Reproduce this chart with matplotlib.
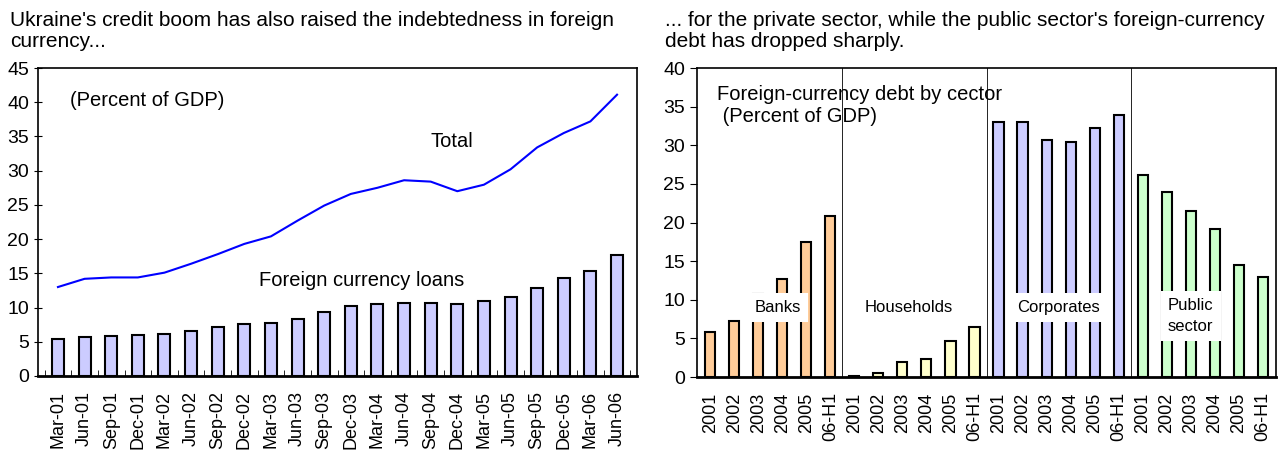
import numpy as np
import matplotlib.pyplot as plt

plt.rcParams['font.family'] = ['Liberation Sans', 'DejaVu Sans']

# left panel: quarterly data, percent of GDP
quarters = ["Mar-01", "Jun-01", "Sep-01", "Dec-01", "Mar-02", "Jun-02", "Sep-02", "Dec-02",
            "Mar-03", "Jun-03", "Sep-03", "Dec-03", "Mar-04", "Jun-04", "Sep-04", "Dec-04",
            "Mar-05", "Jun-05", "Sep-05", "Dec-05", "Mar-06", "Jun-06"]
fx_loans = [5.4, 5.7, 5.8, 5.95, 6.15, 6.6, 7.2, 7.55, 7.7, 8.4, 9.3, 10.25,
            10.5, 10.7, 10.6, 10.5, 10.9, 11.6, 12.8, 14.3, 15.4, 17.75]
total = [13.0, 14.2, 14.4, 14.4, 15.1, 16.4, 17.8, 19.3, 20.4, 22.7, 24.9, 26.6,
         27.5, 28.6, 28.4, 27.0, 27.95, 30.2, 33.4, 35.5, 37.2, 41.1]

# right panel: foreign-currency debt by sector
years = ["2001", "2002", "2003", "2004", "2005", "06-H1"]
sectors = ["Banks", "Households", "Corporates", "Public\nsector"]
banks = [5.8, 7.3, 10.8, 12.7, 17.5, 20.8]
households = [0.17, 0.5, 1.9, 2.3, 4.6, 6.5]
corporates = [33.0, 33.0, 30.65, 30.4, 32.2, 33.9]
public = [26.2, 23.9, 21.5, 19.1, 14.5, 12.9]
sector_colors = ["#FFCC99", "#FFFFCC", "#CCCCFF", "#CCFFCC"]

fig = plt.figure(figsize=(12.8, 4.5), dpi=100)

# ---- left chart
ax1 = fig.add_axes([38/1280, 74/450, 599/1280, 308/450])
x = np.arange(len(quarters))
ax1.bar(x, fx_loans, width=0.45, color="#CCCCFF", edgecolor="black", linewidth=1.5)
ax1.plot(x, total, color="#0000FF", linewidth=1.5)
ax1.set_xlim(-0.75, len(quarters) - 0.25)
ax1.set_ylim(0, 45)
ax1.set_yticks(np.arange(0, 46, 5))
ax1.set_xticks(x)
ax1.set_xticklabels(quarters, rotation=90, fontsize=13)
ax1.tick_params(axis='y', labelsize=14, length=6, direction='inout')
ax1.tick_params(axis='x', length=0, pad=11)
ax1.set_xticks(np.arange(-0.5, len(quarters), 1), minor=True)
ax1.tick_params(axis='x', which='minor', direction='in', length=4)
for s in ax1.spines.values():
    s.set_linewidth(1.2)
ax1.spines['bottom'].set_linewidth(2)
ax1.text(0.45, 40.2, "(Percent of GDP)", fontsize=14.5, va='center')
ax1.text(14.8, 34.2, "Total", fontsize=14.5, ha='center', va='center')
ax1.text(11.4, 14.0, "Foreign currency loans", fontsize=14.5, ha='center', va='center')

fig.text(10/1280, 1 - 31/450, "Ukraine's credit boom has also raised the indebtedness in foreign\ncurrency...",
         fontsize=15, va='center', linespacing=1.15)

# ---- right chart
ax2 = fig.add_axes([697/1280, 73/450, 579/1280, 309/450])
groups = [banks, households, corporates, public]
labels = []
for g, (vals, col) in enumerate(zip(groups, sector_colors)):
    xs = np.arange(len(vals)) + g * len(years)
    ax2.bar(xs, vals, width=0.42, color=col, edgecolor="black", linewidth=1.5, zorder=2)
    labels += years
n = len(labels)
for b in range(1, len(groups)):
    ax2.axvline(b * len(years) - 0.5, color="black", linewidth=0.6, zorder=1)
ax2.set_xlim(-0.55, n - 0.45)
ax2.set_ylim(0, 40)
ax2.set_yticks(np.arange(0, 41, 5))
ax2.set_xticks(np.arange(n))
ax2.set_xticklabels(labels, rotation=90, fontsize=13)
ax2.tick_params(axis='y', labelsize=14, length=5)
ax2.tick_params(axis='x', length=0, pad=11)
for s in ax2.spines.values():
    s.set_linewidth(1.2)
ax2.spines['bottom'].set_linewidth(2)

label_pos = [(2.83, 9.0), (8.25, 9.0), (14.5, 9.0), (20.0, 7.9)]
for name, (lx, ly) in zip(sectors, label_pos):
    ax2.text(lx, ly, name, fontsize=12, ha='center', va='center', zorder=3,
             linespacing=1.5, bbox=dict(facecolor='white', edgecolor='none', pad=5))

ax2.text(0.3, 35.1, "Foreign-currency debt by cector\n (Percent of GDP)", fontsize=14.5,
         va='center', linespacing=1.2)

fig.text(665/1280, 1 - 31/450, "... for the private sector, while the public sector's foreign-currency\ndebt has dropped sharply.",
         fontsize=15, va='center', linespacing=1.15)

fig.savefig("out.png", dpi=100)
